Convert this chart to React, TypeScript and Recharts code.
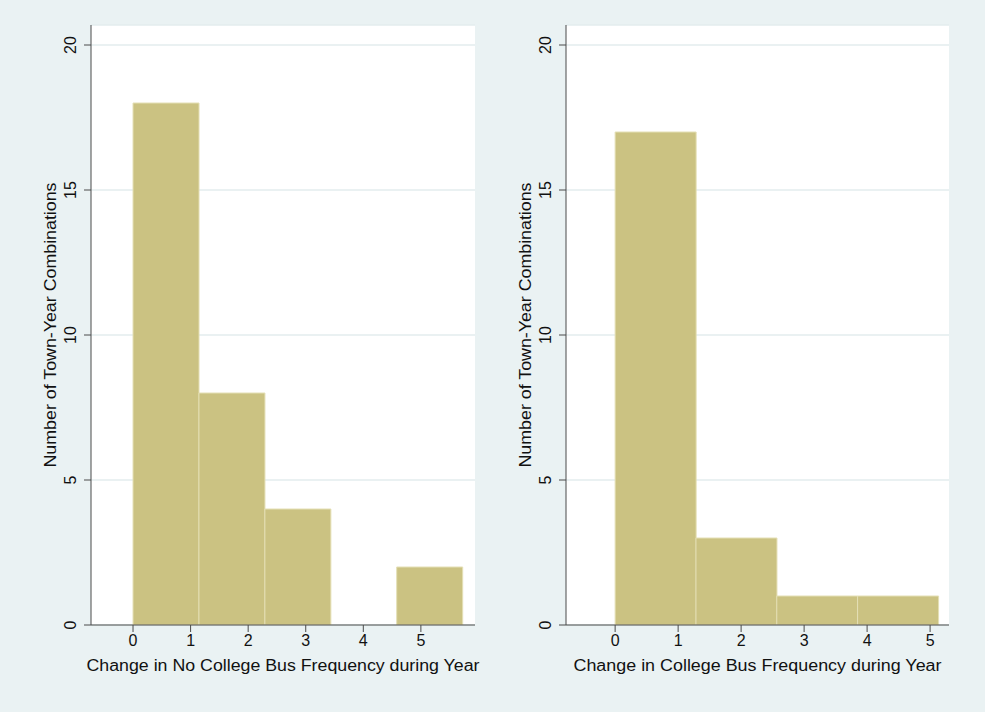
import { BarChart, Bar, XAxis, YAxis, CartesianGrid } from "recharts";

// histogram bins (lower edge of each bin + count)
const leftBinStarts = [0, 1.145, 2.29, 3.435, 4.58];
const leftCounts = [18, 8, 4, 0, 2];
const leftBinWidth = 1.145;

const rightBinStarts = [0, 1.283, 2.566, 3.849];
const rightCounts = [17, 3, 1, 1];
const rightBinWidth = 1.283;

const xTicks = [0, 1, 2, 3, 4, 5];
const yTicks = [0, 5, 10, 15, 20];

const yTitle = "Number of Town-Year Combinations";
const leftXTitle = "Change in No College Bus Frequency during Year";
const rightXTitle = "Change in College Bus Frequency during Year";

const BG = "#eaf2f3";
const BAR = "#cbc282";
const BAR_EDGE = "#e4dfb5";
const AXIS = "#4a4a4a";
const TEXT = "#111";

const toBins = (starts: number[], counts: number[], w: number) =>
  starts.map((s, i) => ({ mid: s + w / 2, count: counts[i] }));

const YTick = (props: any) => {
  const { x, y, payload } = props;
  const bx = x - 6;
  return (
    <text
      x={bx}
      y={y}
      transform={`rotate(-90 ${bx} ${y})`}
      textAnchor="middle"
      fontSize={16}
      fill={TEXT}
    >
      {payload.value}
    </text>
  );
};

const Hist = ({
  data,
  domain,
  xTitle,
  xTitleLen,
  width,
  left,
  right,
}: any) => {
  const renderYTitle = (p: any) => {
    const vb = p.viewBox;
    const cx = vb.x + 15;
    const cy = vb.y + vb.height / 2;
    return (
      <text
        x={cx}
        y={cy}
        transform={`rotate(-90 ${cx} ${cy})`}
        textAnchor="middle"
        fontSize={16}
        textLength={285}
        lengthAdjust="spacingAndGlyphs"
        fill={TEXT}
      >
        {yTitle}
      </text>
    );
  };
  const renderXTitle = (p: any) => {
    const vb = p.viewBox;
    const cx = vb.x + vb.width / 2;
    return (
      <text
        x={cx}
        y={vb.y + 46}
        textAnchor="middle"
        fontSize={16}
        textLength={xTitleLen}
        lengthAdjust="spacingAndGlyphs"
        fill={TEXT}
      >
        {xTitle}
      </text>
    );
  };
  return (
    <BarChart
      width={width}
      height={712}
      data={data}
      margin={{ top: 25, right, bottom: 27, left }}
      barCategoryGap={0}
      barGap={0}
    >
      <CartesianGrid vertical={false} fill="#fff" stroke="#e3ecee" strokeWidth={1.5} />
      <XAxis
        type="number"
        dataKey="mid"
        domain={domain}
        ticks={xTicks}
        allowDataOverflow
        height={60}
        tickSize={7}
        tickMargin={3}
        axisLine={{ stroke: AXIS }}
        tickLine={{ stroke: AXIS }}
        tick={{ fontSize: 16, fill: TEXT }}
        label={renderXTitle}
      />
      <YAxis
        type="number"
        domain={[0, 20.69]}
        ticks={yTicks}
        allowDataOverflow
        width={50}
        tickSize={7}
        tickMargin={2}
        axisLine={{ stroke: AXIS }}
        tickLine={{ stroke: AXIS }}
        tick={<YTick />}
        label={renderYTitle}
      />
      <Bar
        dataKey="count"
        fill={BAR}
        stroke={BAR_EDGE}
        strokeWidth={1}
        isAnimationActive={false}
      />
    </BarChart>
  );
};

export default function App() {
  const leftData = toBins(leftBinStarts, leftCounts, leftBinWidth);
  const rightData = toBins(rightBinStarts, rightCounts, rightBinWidth);
  return (
    <div
      style={{
        position: "absolute",
        left: 0,
        top: 0,
        width: 985,
        height: 712,
        background: BG,
        fontFamily: "'Liberation Sans', Arial, Helvetica, sans-serif",
      }}
    >
      <div style={{ position: "absolute", left: 0, top: 0 }}>
        <Hist
          data={leftData}
          domain={[-0.73, 5.94]}
          xTitle={leftXTitle}
          xTitleLen={393}
          width={492}
          left={41}
          right={17}
        />
      </div>
      <div style={{ position: "absolute", left: 492, top: 0 }}>
        <Hist
          data={rightData}
          domain={[-0.78, 5.3]}
          xTitle={rightXTitle}
          xTitleLen={368}
          width={493}
          left={24}
          right={36}
        />
      </div>
    </div>
  );
}
